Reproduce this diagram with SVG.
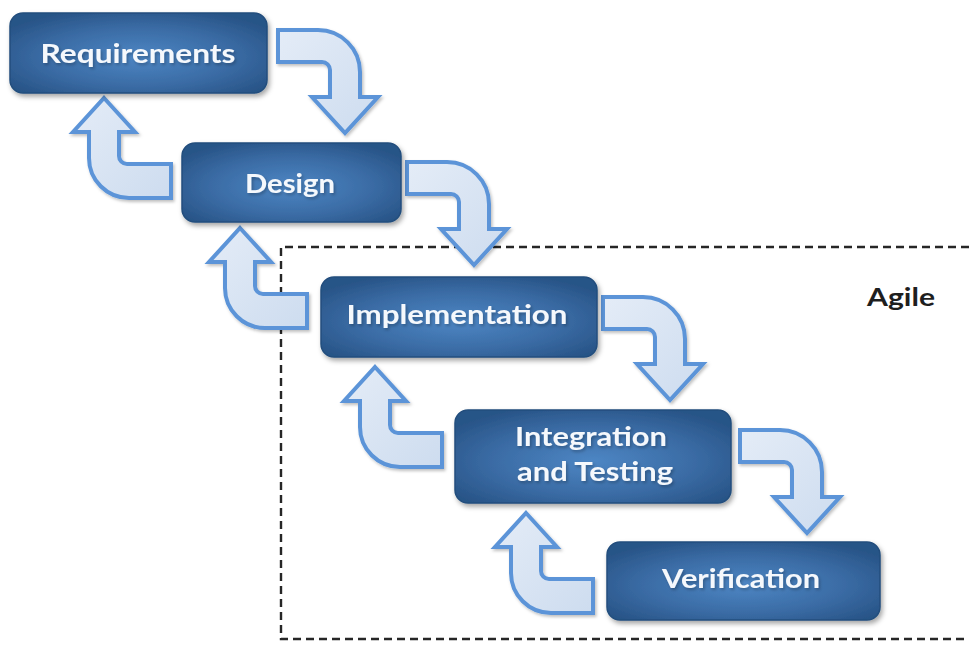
<svg xmlns="http://www.w3.org/2000/svg" width="969" height="651" viewBox="0 0 969 651">
  <defs>
    <radialGradient id="boxFill" cx="0.5" cy="0.55" r="0.62">
      <stop offset="0" stop-color="#4d86c4"/>
      <stop offset="0.6" stop-color="#3a6ba4"/>
      <stop offset="1" stop-color="#285487"/>
    </radialGradient>
    <linearGradient id="arrowFill" x1="0" y1="0" x2="1" y2="1">
      <stop offset="0" stop-color="#e4ecf7"/>
      <stop offset="1" stop-color="#cddcef"/>
    </linearGradient>
    <filter id="shadow" x="-10%" y="-10%" width="125%" height="135%">
      <feDropShadow dx="2" dy="3" stdDeviation="2.5" flood-color="#000" flood-opacity="0.35"/>
    </filter>
    <filter id="softShadow" x="-10%" y="-10%" width="130%" height="130%">
      <feDropShadow dx="1.5" dy="2" stdDeviation="1.5" flood-color="#000" flood-opacity="0.25"/>
    </filter>
    <!-- forward bent arrow: right then down -->
    <path id="downArrow" d="M0,0 H40 A42,42 0 0 1 82,42 V67 H100 L67,103 L34,67 H52 V40 A8,8 0 0 0 44,32 H0 Z"/>
    <!-- return bent arrow: left then up, origin at the tip -->
    <path id="upArrow" d="M0,0 L31,34 H15 V58 A8,8 0 0 0 23,66 H67 V100 H25 A40,40 0 0 1 -15,60 V34 H-31 Z"/>
  </defs>
  <style>
    .box { fill: url(#boxFill); stroke: #234e7d; stroke-width: 1.5; filter: url(#shadow); }
    .label { font-family: Lato, "Open Sans", "Liberation Sans", sans-serif; font-weight: bold; font-size: 26px; fill: #f5f8fc; text-anchor: middle; filter: url(#softShadow); }
    .arrow { fill: url(#arrowFill); stroke: #5b94d8; stroke-width: 4; stroke-linejoin: miter; filter: url(#softShadow); }
    .agile { font-family: Lato, "Open Sans", "Liberation Sans", sans-serif; font-weight: bold; font-size: 25px; fill: #1e1e1e; }
    .frame { fill: none; stroke: #262626; stroke-width: 2.4; stroke-dasharray: 8 5; }
  </style>

  <rect width="969" height="651" fill="#ffffff"/>

  <!-- Agile boundary -->
  <g id="agile-region">
    <path class="frame" d="M969,247 H281 V639 H969"/>
    <text class="agile" x="867" y="306" textLength="68" lengthAdjust="spacingAndGlyphs">Agile</text>
  </g>

  <g id="connectors">
    <use href="#downArrow" class="arrow" transform="translate(278,30)"/>
    <use href="#downArrow" class="arrow" transform="translate(407,162)"/>
    <use href="#downArrow" class="arrow" transform="translate(603,297)"/>
    <use href="#downArrow" class="arrow" transform="translate(740,430)"/>
    <use href="#upArrow" class="arrow" transform="translate(104,98)"/>
    <use href="#upArrow" class="arrow" transform="translate(240,228)"/>
    <use href="#upArrow" class="arrow" transform="translate(375,367)"/>
    <use href="#upArrow" class="arrow" transform="translate(526,513)"/>
  </g>

  <g id="requirements">
    <rect class="box" x="10" y="13" width="257" height="80" rx="13"/>
    <text class="label" x="138" y="63" textLength="195" lengthAdjust="spacingAndGlyphs">Requirements</text>
  </g>

  <g id="design">
    <rect class="box" x="182" y="143" width="219" height="79" rx="13"/>
    <text class="label" x="290" y="193" textLength="90" lengthAdjust="spacingAndGlyphs">Design</text>
  </g>

  <g id="implementation">
    <rect class="box" x="321" y="277" width="276" height="80" rx="13"/>
    <text class="label" x="457" y="324" textLength="221" lengthAdjust="spacingAndGlyphs">Implementation</text>
  </g>

  <g id="integration-testing">
    <rect class="box" x="455" y="410" width="276" height="93" rx="13"/>
    <text class="label" x="591" y="446" textLength="152" lengthAdjust="spacingAndGlyphs">Integration</text>
    <text class="label" x="595" y="481" textLength="156" lengthAdjust="spacingAndGlyphs">and Testing</text>
  </g>

  <g id="verification">
    <rect class="box" x="607" y="542" width="273" height="78" rx="13"/>
    <text class="label" x="741" y="588" textLength="158" lengthAdjust="spacingAndGlyphs">Verification</text>
  </g>
</svg>
